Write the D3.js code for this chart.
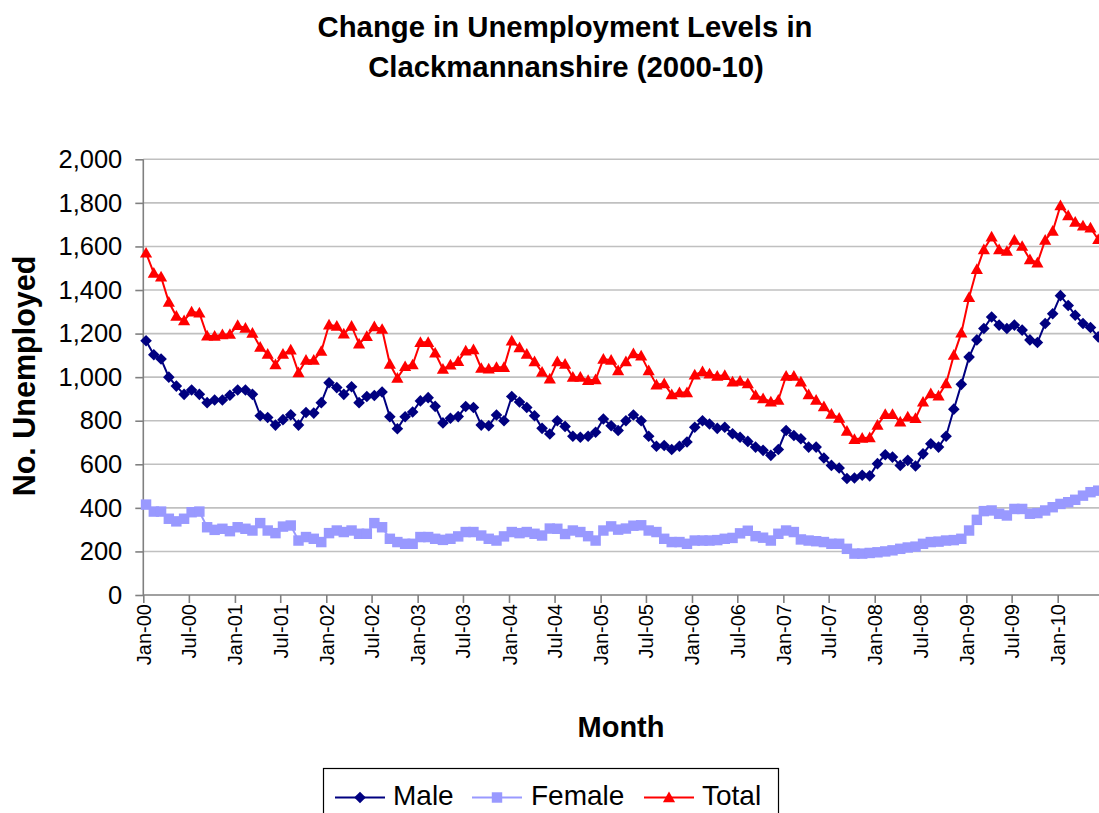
<!DOCTYPE html>
<html>
<head>
<meta charset="utf-8">
<script src="https://cdn.jsdelivr.net/npm/d3@7"></script>
<style>
  html, body { margin: 0; padding: 0; background: #fff; overflow: hidden; }
  svg { display: block; font-family: "Liberation Sans", Arial, sans-serif; }
</style>
</head>
<body>
<div id="chart"></div>
<script>
// --- Data (monthly claimant counts, Jan 2000 - Jun 2010) ---
const firstMonth = new Date(2000, 0, 12);

const male = [
  1167, 1103, 1083, 1000, 959, 921, 941, 921, 883, 895, 895, 917,
  941, 941, 921, 823, 815, 780, 805, 827, 780, 838, 835, 883,
  974, 952, 921, 956, 883, 911, 916, 932, 818, 763, 818, 840,
  891, 906, 866, 790, 811, 819, 865, 861, 780, 777, 826, 800,
  911, 886, 861, 823, 765, 739, 800, 774, 729, 724, 729, 747,
  808, 777, 755, 800, 826, 800, 729, 683, 686, 668, 683, 702,
  770, 800, 785, 765, 770, 740, 724, 705, 679, 664, 641, 668,
  755, 732, 717, 679, 679, 629, 595, 583, 535, 537, 550, 547,
  603, 644, 633, 595, 618, 592, 648, 694, 679, 729, 853, 967,
  1092, 1171, 1223, 1276, 1239, 1223, 1239, 1216, 1171, 1159, 1246, 1291,
  1374, 1329, 1284, 1246, 1228, 1185
];

const female = [
  415, 383, 383, 350, 338, 350, 380, 383, 311, 299, 304, 293,
  311, 304, 296, 330, 296, 284, 314, 319, 250, 266, 258, 243,
  284, 296, 289, 296, 281, 281, 330, 311, 258, 243, 235, 235,
  266, 266, 258, 253, 258, 269, 289, 289, 273, 258, 250, 269,
  289, 284, 289, 281, 273, 305, 304, 280, 296, 289, 270, 250,
  296, 315, 300, 305, 318, 320, 296, 289, 258, 243, 243, 235,
  250, 250, 250, 252, 258, 262, 283, 295, 270, 263, 250, 281,
  296, 289, 255, 250, 247, 243, 235, 235, 212, 190, 190, 193,
  196, 200, 205, 212, 218, 222, 235, 243, 245, 250, 252, 258,
  296, 345, 385, 388, 373, 365, 395, 395, 373, 376, 388, 403,
  418, 426, 437, 456, 472, 479
];

const total = [
  1570, 1478, 1460, 1345, 1280, 1260, 1300, 1295, 1190, 1188, 1195, 1197,
  1238, 1225, 1202, 1138, 1106, 1058, 1106, 1125, 1021, 1078, 1078, 1119,
  1240, 1234, 1199, 1234, 1153, 1187, 1232, 1220, 1060, 996, 1049, 1057,
  1160, 1160, 1111, 1037, 1056, 1073, 1121, 1126, 1041, 1038, 1045, 1045,
  1167, 1136, 1106, 1071, 1023, 992, 1071, 1060, 1000, 1000, 985, 989,
  1083, 1078, 1030, 1071, 1108, 1098, 1030, 965, 970, 920, 929, 929,
  1011, 1026, 1015, 1005, 1008, 978, 982, 970, 917, 902, 887, 895,
  1005, 1005, 978, 920, 895, 865, 830, 812, 752, 715, 720, 723,
  780, 829, 829, 795, 818, 811, 886, 924, 914, 970, 1101, 1203,
  1366, 1495, 1586, 1644, 1586, 1578, 1629, 1601, 1540, 1525, 1629, 1670,
  1787, 1742, 1712, 1694, 1685, 1632
];

const yTicks = [0, 200, 400, 600, 800, 1000, 1200, 1400, 1600, 1800, 2000];
const axisStart = new Date(2000, 0, 1);
const axisEnd = new Date(2010, 0, 1);

const seriesDefs = [
  { name: "Male", values: male, color: "#000080", marker: "diamond" },
  { name: "Female", values: female, color: "#9999ff", marker: "square" },
  { name: "Total", values: total, color: "#ff0000", marker: "triangle" }
];

// --- Setup ---
const W = 1099, H = 813;
const plot = { left: 143.3, right: 1110, top: 159.3, bottom: 595 };
const font = "'Liberation Sans', Arial, sans-serif";

const svg = d3.select("#chart").append("svg")
    .attr("width", W)
    .attr("height", H);

const months = male.map((_, i) => d3.timeMonth.offset(firstMonth, i));

const xScale = d3.scaleTime()
    .domain([axisStart, axisEnd])
    .range([plot.left, 1057.7]);

const yScale = d3.scaleLinear()
    .domain([0, 2000])
    .range([plot.bottom, plot.top]);

// Gridlines
svg.append("g")
  .selectAll("line")
  .data(yTicks.filter(d => d > 0))
  .join("line")
    .attr("x1", plot.left)
    .attr("x2", plot.right)
    .attr("y1", d => yScale(d))
    .attr("y2", d => yScale(d))
    .attr("stroke", "#c0c0c0")
    .attr("stroke-width", 1.6);

// Y axis
const yAxis = d3.axisLeft(yScale)
    .tickValues(yTicks)
    .tickSize(8)
    .tickPadding(13)
    .tickFormat(d3.format(","));

const yAxisG = svg.append("g")
    .attr("transform", `translate(${plot.left},0)`)
    .call(yAxis);
yAxisG.select(".domain").remove();
yAxisG.selectAll(".tick line").attr("stroke", "#808080").attr("stroke-width", 1.6);
yAxisG.selectAll(".tick text")
    .attr("font-size", 25.5)
    .attr("font-family", font)
    .attr("fill", "#000");

svg.append("line")
    .attr("x1", plot.left).attr("x2", plot.left)
    .attr("y1", plot.top).attr("y2", plot.bottom)
    .attr("stroke", "#808080").attr("stroke-width", 1.6);

// X axis
const xTicks = d3.timeMonth.every(6).range(axisStart, d3.timeDay.offset(axisEnd, 1));
const xAxis = d3.axisBottom(xScale)
    .tickValues(xTicks)
    .tickSize(8)
    .tickFormat(d3.timeFormat("%b-%y"));

const xAxisG = svg.append("g")
    .attr("transform", `translate(0,${plot.bottom})`)
    .call(xAxis);
xAxisG.select(".domain").remove();
xAxisG.selectAll(".tick line").attr("stroke", "#808080").attr("stroke-width", 1.6);
xAxisG.selectAll(".tick text")
    .attr("font-size", 20)
    .attr("font-family", font)
    .attr("fill", "#000")
    .attr("text-anchor", "end")
    .attr("transform", "rotate(-90)")
    .attr("x", -9)
    .attr("y", 0)
    .attr("dy", "0.35em");

svg.append("line")
    .attr("x1", plot.left).attr("x2", plot.right)
    .attr("y1", plot.bottom).attr("y2", plot.bottom)
    .attr("stroke", "#808080").attr("stroke-width", 1.6);

// Marker shapes
function markerPath(type, s) {
  if (type === "diamond") return `M0,${-s}L${s},0L0,${s}L${-s},0Z`;
  if (type === "square") return `M${-s * 0.9},${-s * 0.9}H${s * 0.9}V${s * 0.9}H${-s * 0.9}Z`;
  return `M0,${-s * 1.05}L${s * 1.05},${s * 0.8}L${-s * 1.05},${s * 0.8}Z`;
}

// Lines + markers
const line = d3.line()
    .x((d, i) => xScale(months[i]))
    .y(d => yScale(d));

seriesDefs.forEach(s => {
  const g = svg.append("g");
  g.append("path")
      .datum(s.values)
      .attr("d", line)
      .attr("fill", "none")
      .attr("stroke", s.color)
      .attr("stroke-width", 2);
  g.selectAll("path.marker")
    .data(s.values)
    .join("path")
      .attr("class", "marker")
      .attr("transform", (d, i) => `translate(${xScale(months[i])},${yScale(d)})`)
      .attr("d", markerPath(s.marker, 5.8))
      .attr("fill", s.color);
});

// Titles
const title = svg.append("text")
    .attr("text-anchor", "middle")
    .attr("font-family", font)
    .attr("font-weight", "bold")
    .attr("font-size", 29.3);
title.append("tspan").attr("x", 565).attr("y", 37).text("Change in Unemployment Levels in");
title.append("tspan").attr("x", 566).attr("y", 77).text("Clackmannanshire (2000-10)");

svg.append("text")
    .attr("transform", "translate(35,376) rotate(-90)")
    .attr("text-anchor", "middle")
    .attr("font-family", font)
    .attr("font-weight", "bold")
    .attr("font-size", 30.5)
    .text("No. Unemployed");

svg.append("text")
    .attr("x", 621)
    .attr("y", 737)
    .attr("text-anchor", "middle")
    .attr("font-family", font)
    .attr("font-weight", "bold")
    .attr("font-size", 29)
    .text("Month");

// Legend
const legend = svg.append("g");
legend.append("rect")
    .attr("x", 323.5).attr("y", 768.5)
    .attr("width", 455).attr("height", 70)
    .attr("fill", "#fff")
    .attr("stroke", "#000")
    .attr("stroke-width", 1.2);

const legendItems = [
  { x: 335, tx: 393 },
  { x: 472, tx: 531 },
  { x: 644, tx: 702 }
];

seriesDefs.forEach((s, i) => {
  const it = legendItems[i];
  const gi = legend.append("g");
  gi.append("line")
      .attr("x1", it.x).attr("x2", it.x + 50)
      .attr("y1", 797.5).attr("y2", 797.5)
      .attr("stroke", s.color).attr("stroke-width", 2);
  gi.append("path")
      .attr("transform", `translate(${it.x + 25},797.5)`)
      .attr("d", markerPath(s.marker, 5.8))
      .attr("fill", s.color);
  gi.append("text")
      .attr("x", it.tx).attr("y", 805)
      .attr("font-family", font)
      .attr("font-size", 28)
      .text(s.name);
});
</script>
</body>
</html>
